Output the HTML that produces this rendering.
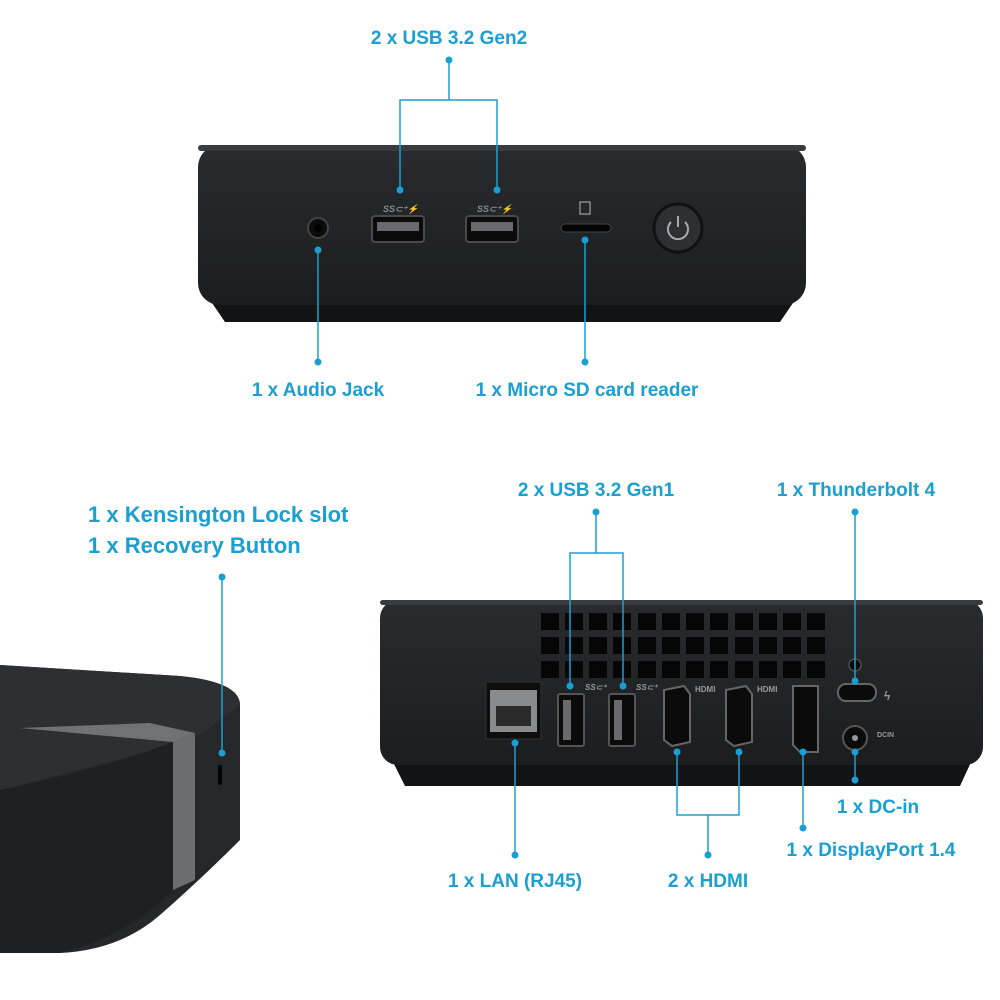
<!DOCTYPE html>
<html><head><style>
html,body{margin:0;padding:0;background:#fff;}
svg{display:block}
text{font-family:"Liberation Sans",sans-serif;font-weight:bold;fill:#1a9fd3;font-size:19px}
</style></head><body>
<svg width="1000" height="1000" viewBox="0 0 1000 1000">
<defs>
<linearGradient id="bd" x1="0" y1="0" x2="0" y2="1"><stop offset="0" stop-color="#2a2b2e"/><stop offset="1" stop-color="#1c1d1f"/></linearGradient>
</defs>
<!-- TOP DEVICE -->
<path d="M210 300 L795 300 L780 322 L225 322 Z" fill="#121314"/>
<rect x="198" y="145" width="608" height="160" rx="22" fill="url(#bd)"/>
<rect x="198" y="145" width="608" height="6" rx="3" fill="#3a3b3e"/>
<circle cx="318" cy="228" r="10" fill="#0c0c0d" stroke="#444" stroke-width="2"/>
<circle cx="318" cy="228" r="4" fill="#000"/>
<rect x="372" y="216" width="52" height="26" rx="3" fill="#0b0b0c" stroke="#4a4a4d" stroke-width="2"/>
<rect x="377" y="222" width="42" height="9" fill="#6a6a6e"/>
<rect x="466" y="216" width="52" height="26" rx="3" fill="#0b0b0c" stroke="#4a4a4d" stroke-width="2"/>
<rect x="471" y="222" width="42" height="9" fill="#6a6a6e"/>
<text x="383" y="212" style="font-size:9px;fill:#888;font-style:italic">SS⊂⁺⚡</text>
<text x="477" y="212" style="font-size:9px;fill:#888;font-style:italic">SS⊂⁺⚡</text>
<rect x="561" y="224" width="50" height="8" rx="4" fill="#050505" stroke="#444"/>
<rect x="580" y="202" width="10" height="12" fill="none" stroke="#888" stroke-width="1.5"/>
<circle cx="678" cy="228" r="24" fill="#2e2f32" stroke="#111" stroke-width="3"/>
<path d="M671 222 A10 10 0 1 0 685 222" fill="none" stroke="#aaa" stroke-width="2"/>
<line x1="678" y1="216" x2="678" y2="227" stroke="#aaa" stroke-width="2"/>
<g stroke="#1a9fd3" stroke-width="1.5" fill="none">
<path d="M449 60 V100 M400 190 V100 H497 V190 M318 250 V362 M585 240 V362"/>
</g>
<g fill="#1a9fd3">
<circle cx="449" cy="60" r="3.5"/><circle cx="400" cy="190" r="3.5"/><circle cx="497" cy="190" r="3.5"/>
<circle cx="318" cy="250" r="3.5"/><circle cx="318" cy="362" r="3.5"/><circle cx="585" cy="240" r="3.5"/><circle cx="585" cy="362" r="3.5"/>
</g>
<text x="449" y="44" text-anchor="middle">2 x USB 3.2 Gen2</text>
<text x="318" y="396" text-anchor="middle">1 x Audio Jack</text>
<text x="587" y="396" text-anchor="middle">1 x Micro SD card reader</text>

<!-- LEFT DEVICE -->
<path d="M0 665 L180 676 Q240 682 240 705 L240 840 Q200 880 160 915 Q120 950 60 953 L0 953 Z" fill="#26272b"/>
<path d="M0 665 L180 676 Q240 682 240 705 L195 738 Q120 760 0 790 Z" fill="#2e2f33"/>
<path d="M0 790 Q100 770 173 742 L173 890 Q130 935 60 953 L0 953 Z" fill="#1f2023"/>
<path d="M20 728 L150 723 L195 733 L173 742 Z" fill="#707275"/>
<path d="M173 742 L195 733 L195 880 L173 890 Z" fill="#6b6d70"/>
<rect x="218" y="765" width="4" height="20" rx="2" fill="#050505"/>
<line x1="222" y1="577" x2="222" y2="753" stroke="#1a9fd3" stroke-width="1.5"/>
<circle cx="222" cy="577" r="3.5" fill="#1a9fd3"/><circle cx="222" cy="753" r="3.5" fill="#1a9fd3"/>
<text x="88" y="522" style="font-size:22px">1 x Kensington Lock slot</text>
<text x="88" y="553" style="font-size:22px">1 x Recovery Button</text>

<!-- BOTTOM RIGHT DEVICE -->
<path d="M392 760 L972 760 L960 786 L405 786 Z" fill="#121314"/>
<rect x="380" y="600" width="603" height="165" rx="18" fill="url(#bd)"/>
<rect x="380" y="600" width="603" height="5" rx="3" fill="#3a3b3e"/>
<g fill="#060607">
<rect x="541" y="613" width="18" height="17"/><rect x="565" y="613" width="18" height="17"/><rect x="589" y="613" width="18" height="17"/><rect x="613" y="613" width="18" height="17"/><rect x="638" y="613" width="18" height="17"/><rect x="662" y="613" width="18" height="17"/><rect x="686" y="613" width="18" height="17"/><rect x="710" y="613" width="18" height="17"/><rect x="735" y="613" width="18" height="17"/><rect x="759" y="613" width="18" height="17"/><rect x="783" y="613" width="18" height="17"/><rect x="807" y="613" width="18" height="17"/>
<rect x="541" y="637" width="18" height="17"/><rect x="565" y="637" width="18" height="17"/><rect x="589" y="637" width="18" height="17"/><rect x="613" y="637" width="18" height="17"/><rect x="638" y="637" width="18" height="17"/><rect x="662" y="637" width="18" height="17"/><rect x="686" y="637" width="18" height="17"/><rect x="710" y="637" width="18" height="17"/><rect x="735" y="637" width="18" height="17"/><rect x="759" y="637" width="18" height="17"/><rect x="783" y="637" width="18" height="17"/><rect x="807" y="637" width="18" height="17"/>
<rect x="541" y="661" width="18" height="17"/><rect x="565" y="661" width="18" height="17"/><rect x="589" y="661" width="18" height="17"/><rect x="613" y="661" width="18" height="17"/><rect x="638" y="661" width="18" height="17"/><rect x="662" y="661" width="18" height="17"/><rect x="686" y="661" width="18" height="17"/><rect x="710" y="661" width="18" height="17"/><rect x="735" y="661" width="18" height="17"/><rect x="759" y="661" width="18" height="17"/><rect x="783" y="661" width="18" height="17"/><rect x="807" y="661" width="18" height="17"/>
</g>
<rect x="486" y="682" width="55" height="57" fill="#0e0e0f" stroke="#333"/>
<rect x="490" y="690" width="47" height="42" fill="#8a8b8d"/>
<rect x="496" y="706" width="35" height="20" fill="#2a2a2b"/>
<rect x="558" y="694" width="26" height="52" rx="2" fill="#0b0b0c" stroke="#555" stroke-width="2"/>
<rect x="563" y="700" width="8" height="40" fill="#6a6a6e"/>
<rect x="609" y="694" width="26" height="52" rx="2" fill="#0b0b0c" stroke="#555" stroke-width="2"/>
<rect x="614" y="700" width="8" height="40" fill="#6a6a6e"/>
<path d="M664 690 L684 686 L690 694 L690 742 L672 746 L664 740 Z" fill="#0b0b0c" stroke="#666" stroke-width="2"/>
<path d="M726 690 L746 686 L752 694 L752 742 L734 746 L726 740 Z" fill="#0b0b0c" stroke="#666" stroke-width="2"/>
<path d="M793 686 L818 686 L818 752 L800 752 L793 745 Z" fill="#0b0b0c" stroke="#666" stroke-width="2"/>
<rect x="838" y="684" width="38" height="17" rx="8" fill="#0b0b0c" stroke="#666" stroke-width="2"/>
<circle cx="855" cy="665" r="6" fill="#0b0b0c" stroke="#666"/>
<circle cx="855" cy="738" r="12" fill="#0b0b0c" stroke="#555" stroke-width="2"/>
<circle cx="855" cy="738" r="3" fill="#999"/>
<text x="585" y="690" style="font-size:8px;fill:#999;font-style:italic">SS⊂⁺</text>
<text x="636" y="690" style="font-size:8px;fill:#999;font-style:italic">SS⊂⁺</text>
<text x="695" y="692" style="font-size:8px;fill:#999">HDMI</text>
<text x="757" y="692" style="font-size:8px;fill:#999">HDMI</text>
<text x="877" y="737" style="font-size:7px;fill:#999">DCIN</text>
<text x="884" y="700" style="font-size:12px;fill:#999">ϟ</text>
<g stroke="#1a9fd3" stroke-width="1.5" fill="none">
<path d="M596 512 V553 M570 688 V553 H623 V688 M855 512 V681 M515 740 V855 M677 752 V815 H739 V752 M708 815 V855 M803 752 V828 M855 755 V780"/>
</g>
<g fill="#1a9fd3">
<circle cx="596" cy="512" r="3.5"/><circle cx="570" cy="686" r="3.5"/><circle cx="623" cy="686" r="3.5"/>
<circle cx="855" cy="512" r="3.5"/><circle cx="855" cy="681" r="3.5"/>
<circle cx="515" cy="743" r="3.5"/><circle cx="515" cy="855" r="3.5"/>
<circle cx="677" cy="752" r="3.5"/><circle cx="739" cy="752" r="3.5"/><circle cx="708" cy="855" r="3.5"/>
<circle cx="803" cy="752" r="3.5"/><circle cx="803" cy="828" r="3.5"/>
<circle cx="855" cy="752" r="3.5"/><circle cx="855" cy="780" r="3.5"/>
</g>
<text x="596" y="496" text-anchor="middle">2 x USB 3.2 Gen1</text>
<text x="856" y="496" text-anchor="middle">1 x Thunderbolt 4</text>
<text x="878" y="813" text-anchor="middle">1 x DC-in</text>
<text x="871" y="856" text-anchor="middle">1 x DisplayPort 1.4</text>
<text x="515" y="887" text-anchor="middle">1 x LAN (RJ45)</text>
<text x="708" y="887" text-anchor="middle">2 x HDMI</text>
</svg>
</body></html>
